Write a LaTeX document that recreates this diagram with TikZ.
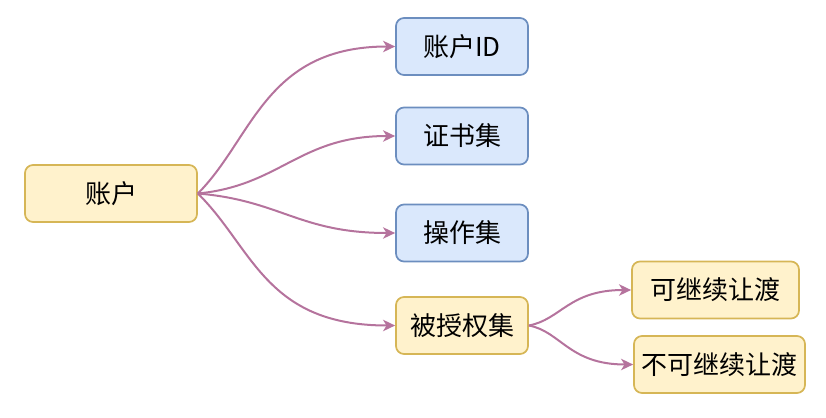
\documentclass[tikz,border=0pt]{standalone}
\usepackage{fontspec}
\setmainfont{Noto Sans CJK SC}
\usetikzlibrary{arrows.meta}
\definecolor{yfill}{HTML}{FFF2CC}
\definecolor{ydraw}{HTML}{D6B656}
\definecolor{bfill}{HTML}{DAE8FC}
\definecolor{bdraw}{HTML}{6C8EBF}
\definecolor{linkcol}{HTML}{B5739D}

\begin{document}
\begin{tikzpicture}[x=0.75pt, y=-0.75pt,
    box/.style={draw, line width=1.3pt, rounded corners=6pt, inner sep=0pt,
                minimum height=42.75pt, font=\fontsize{19.5}{23}\selectfont},
    yellowbox/.style={box, fill=yfill, draw=ydraw},
    bluebox/.style={box, fill=bfill, draw=bdraw, minimum width=99pt},
    link/.style={draw=linkcol, line width=1.5pt,
                 -{Stealth[length=9pt, width=8.5pt, inset=2.5pt]}}]
      \useasboundingbox (0,0) rectangle (826,418);

      % root and first level
      \node[yellowbox, minimum width=129pt] (acc) at (111,193.5) {账户};
      \node[bluebox] (accid) at (462,46.5) {账户ID};
      \node[bluebox] (certs) at (462,136) {证书集};
      \node[bluebox] (ops) at (462,233) {操作集};
      \node[yellowbox, minimum width=99pt] (granted) at (462,325.5) {被授权集};

      % second level
      \node[yellowbox, minimum width=125.25pt] (trans) at (715.5,290) {可继续让渡};
      \node[yellowbox, minimum width=128.25pt] (notrans) at (719.5,364.5) {不可继续让渡};

      \draw[link] (acc.east) .. controls +(55,-55) and +(-130,0) .. (accid.west);
      \draw[link] (acc.east) .. controls +(83,-8) and +(-96,0) .. (certs.west);
      \draw[link] (acc.east) .. controls +(83,7) and +(-96,0) .. (ops.west);
      \draw[link] (acc.east) .. controls +(55,54) and +(-130,0) .. (granted.west);
      \draw[link] (granted.east) .. controls +(32,-6) and +(-62,0) .. (trans.west);
      \draw[link] (granted.east) .. controls +(32,6) and +(-64,0) .. (notrans.west);
    \end{tikzpicture}
\end{document}
